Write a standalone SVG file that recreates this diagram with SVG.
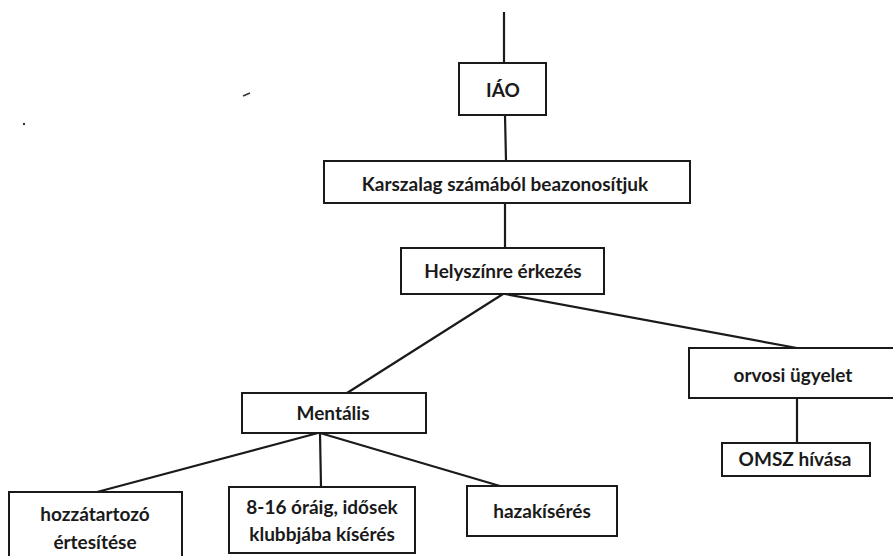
<svg xmlns="http://www.w3.org/2000/svg" width="893" height="556" viewBox="0 0 893 556">
<style>
.box{fill:#fff;stroke:#1a1a1a;stroke-width:2}
.lbl{font-family:Lato,"Open Sans","Liberation Sans",sans-serif;font-size:19px;font-weight:bold;fill:#1a1a1a;text-anchor:middle}
.con{stroke:#1a1a1a;stroke-width:2.2;fill:none}
</style>
<rect width="893" height="556" fill="#fff"/>
<g id="connectors">
<line class="con" x1="504" y1="12" x2="504" y2="63"/>
<line class="con" x1="505" y1="115" x2="506" y2="161"/>
<line class="con" x1="505" y1="203" x2="505" y2="248"/>
<line class="con" x1="503" y1="294" x2="347" y2="393"/>
<line class="con" x1="505" y1="294" x2="797" y2="348"/>
<line class="con" x1="797" y1="398" x2="797" y2="443"/>
<line class="con" x1="318" y1="433" x2="97" y2="492"/>
<line class="con" x1="320" y1="433" x2="321" y2="487"/>
<line class="con" x1="320" y1="433" x2="500" y2="486"/>
</g>
<g id="iao"><rect class="box" x="459" y="63" width="87" height="52"/><text class="lbl" x="503" y="97">IÁO</text></g>
<g id="karszalag"><rect class="box" x="324" y="161" width="366" height="42"/><text class="lbl" x="505" y="191">Karszalag számából beazonosítjuk</text></g>
<g id="helyszinre"><rect class="box" x="401" y="248" width="203" height="46"/><text class="lbl" x="503" y="278">Helyszínre érkezés</text></g>
<g id="mentalis"><rect class="box" x="242" y="393" width="184" height="40"/><text class="lbl" x="333" y="420">Mentális</text></g>
<g id="orvosi"><rect class="box" x="689" y="348" width="210" height="50"/><text class="lbl" x="793" y="382">orvosi ügyelet</text></g>
<g id="omsz"><rect class="box" x="722" y="443" width="148" height="33"/><text class="lbl" x="795" y="466">OMSZ hívása</text></g>
<g id="hozzatartozo"><rect class="box" x="9" y="492" width="173" height="70"/><text class="lbl" x="95" y="521">hozzátartozó</text><text class="lbl" x="95" y="549">értesítése</text></g>
<g id="klub"><rect class="box" x="229" y="487" width="186" height="66"/><text class="lbl" x="322" y="514">8-16 óráig, idősek</text><text class="lbl" x="322" y="541">klubbjába kísérés</text></g>
<g id="hazakiseres"><rect class="box" x="467" y="486" width="150" height="50"/><text class="lbl" x="542" y="518">hazakísérés</text></g>
<line x1="243" y1="96" x2="250" y2="93" stroke="#333" stroke-width="1.5"/>
<circle cx="24" cy="124" r="1.2" fill="#333"/>
</svg>
